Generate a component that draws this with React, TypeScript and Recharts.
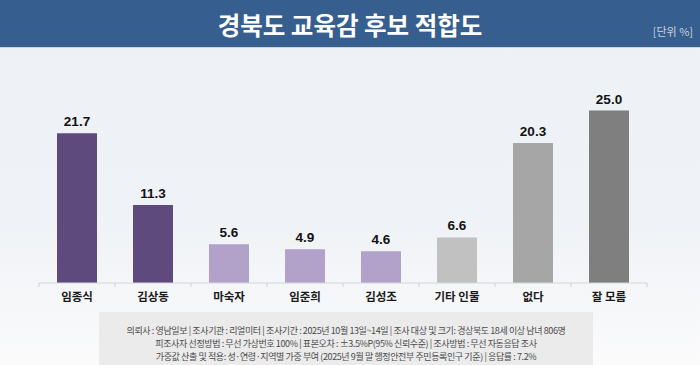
import React from "react";
import { BarChart, Bar, XAxis, YAxis, Cell, LabelList } from "recharts";

const categories = ["임종식", "김상동", "마숙자", "임준희", "김성조", "기타 인물", "없다", "잘 모름"];
const values = [21.7, 11.3, 5.6, 4.9, 4.6, 6.6, 20.3, 25.0];
const colors = ["#5e4a7c", "#5e4a7c", "#b2a1c8", "#b2a1c8", "#b2a1c8", "#c1c1c1", "#a6a6a6", "#7f7f7f"];

const title = "경북도 교육감 후보 적합도";
const unitLabel = "[단위 %]";
const footerLines = [
  "의뢰사 : 영남일보  | 조사기관 : 리얼미터  | 조사기간 : 2025년 10월 13일~14일 | 조사 대상 및 크기: 경상북도  18세 이상 남녀 806명",
  "피조사자  선정방법 : 무선 가상번호  100% | 표본오차 : ±3.5%P(95%  신뢰수준) | 조사방법 : 무선 자동응답  조사",
  "가중값 산출 및 적용: 성·연령·지역별  가중 부여 (2025년 9월 말 행정안전부  주민등록인구  기준) | 응답률 : 7.2%",
];

const data = categories.map((name, i) => ({ name, value: values[i], color: colors[i] }));

const FONT = "'Noto Sans CJK KR', 'Noto Sans', sans-serif";
const NUM_FONT = "'Liberation Sans', Arial, sans-serif";

const CategoryTick = (props: any) => {
  const { x, y, payload, index } = props;
  const half = payload && payload.offset ? payload.offset : 38;
  return (
    <g>
      <line x1={x - half} y1={y - 8} x2={x - half} y2={y - 4} stroke="#d0d0d0" strokeWidth={1} />
      {index === data.length - 1 ? (
        <line x1={x + half} y1={y - 8} x2={x + half} y2={y - 4} stroke="#d0d0d0" strokeWidth={1} />
      ) : null}
      <text x={x} y={y + 10} textAnchor="middle" fontFamily={FONT} fontWeight={700} fontSize={11.5} fill="#1a1a1a">
        {payload.value}
      </text>
    </g>
  );
};

export default function App() {
  return (
    <div
      style={{
        position: "absolute",
        left: 0,
        top: 0,
        width: 700,
        height: 365,
        overflow: "hidden",
        background: "linear-gradient(#edf0f5 0%, #eff2f6 60%, #fbfbfc 100%)",
        fontFamily: FONT,
      }}
    >
      <div
        style={{
          position: "absolute",
          left: 0,
          top: 0,
          width: 700,
          height: 47,
          background: "#365e8f",
          borderBottom: "1px solid #c9d3e0",
        }}
      >
        <div
          style={{
            position: "absolute",
            left: 0,
            top: 1,
            width: 700,
            height: 47,
            lineHeight: "47px",
            textAlign: "center",
            color: "#ffffff",
            fontWeight: 700,
            fontSize: 24.5,
          }}
        >
          {title}
        </div>
        <div
          style={{
            position: "absolute",
            right: 7,
            top: 24,
            color: "#c9d2de",
            fontSize: 11,
            lineHeight: "14px",
          }}
        >
          {unitLabel}
        </div>
      </div>

      <div style={{ position: "absolute", left: 0, top: 0 }}>
        <BarChart width={700} height={365} data={data} margin={{ top: 76, right: 53, bottom: 52, left: 39 }}>
          <YAxis hide domain={[0, 30]} />
          <XAxis
            dataKey="name"
            axisLine={{ stroke: "#d6d6d6" }}
            tickLine={false}
            tick={<CategoryTick />}
            interval={0}
            height={30}
          />
          <Bar dataKey="value" barSize={40} isAnimationActive={false}>
            {data.map((d, i) => (
              <Cell key={i} fill={d.color} />
            ))}
            <LabelList
              dataKey="value"
              position="top"
              offset={7}
              formatter={(v: any) => Number(v).toFixed(1)}
              style={{ fontFamily: NUM_FONT, fontWeight: 700, fontSize: 13.5, fill: "#111111" }}
            />
          </Bar>
        </BarChart>
      </div>

      <div
        style={{
          position: "absolute",
          left: 99,
          top: 312,
          width: 494,
          height: 53,
          background: "#ebebeb",
        }}
      >
        {footerLines.map((line, i) => (
          <div
            key={i}
            style={{
              position: "absolute",
              left: 0,
              width: 494,
              top: 13 + i * 13,
              textAlign: "center",
              fontSize: 9,
              lineHeight: "12px",
              color: "#4a4a4a",
              letterSpacing: -0.4,
              whiteSpace: "nowrap",
            }}
          >
            {line}
          </div>
        ))}
      </div>
    </div>
  );
}
